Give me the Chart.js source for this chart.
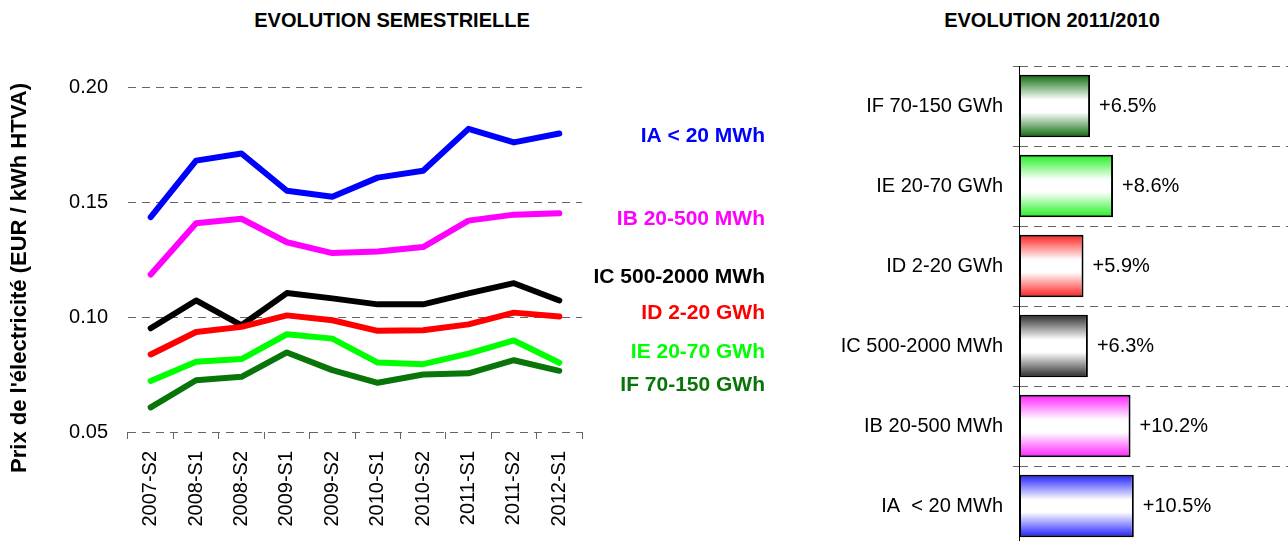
<!DOCTYPE html>
<html>
<head>
<meta charset="utf-8">
<script src="https://cdn.jsdelivr.net/npm/chart.js@4/dist/chart.umd.min.js"></script>
<style>
  html, body { margin: 0; padding: 0; background: #fff; overflow: hidden; width: 1288px; height: 541px; }
  .title { position: absolute; top: 8px; font: bold 20px 'Liberation Sans', Arial, sans-serif; text-align: center; line-height: 24px; color: #000; }
  #leftBox { position: absolute; left: 0; top: 0; width: 800px; height: 541px; }
  #rightBox { position: absolute; left: 800px; top: 0; width: 488px; height: 568px; }
</style>
</head>
<body>
<div class="title" style="left:192px;width:400px;">EVOLUTION SEMESTRIELLE</div>
<div class="title" style="left:852px;width:400px;">EVOLUTION 2011/2010</div>
<div id="leftBox"><canvas id="lineChart"></canvas></div>
<div id="rightBox"><canvas id="barChart" width="488" height="568"></canvas></div>
<script>
// semesters
var periods = ['2007-S2', '2008-S1', '2008-S2', '2009-S1', '2009-S2', '2010-S1', '2010-S2', '2011-S1', '2011-S2', '2012-S1'];

// prices EUR / kWh HTVA
var iaValues = [0.1434, 0.1680, 0.1711, 0.1549, 0.1523, 0.1606, 0.1636, 0.1818, 0.1759, 0.1798];
var ibValues = [0.1185, 0.1408, 0.1427, 0.1325, 0.1278, 0.1285, 0.1304, 0.1419, 0.1445, 0.1451];
var icValues = [0.0951, 0.1072, 0.0964, 0.1104, 0.1081, 0.1055, 0.1055, 0.1103, 0.1147, 0.1072];
var idValues = [0.0837, 0.0935, 0.0957, 0.1007, 0.0986, 0.0940, 0.0942, 0.0968, 0.1019, 0.1002];
var ieValues = [0.0722, 0.0805, 0.0817, 0.0925, 0.0906, 0.0802, 0.0795, 0.0841, 0.0898, 0.0801];
var ifValues = [0.0607, 0.0725, 0.0740, 0.0846, 0.0769, 0.0714, 0.0750, 0.0755, 0.0812, 0.0766];

var seriesNames = ['IA < 20 MWh', 'IB 20-500 MWh', 'IC 500-2000 MWh', 'ID 2-20 GWh', 'IE 20-70 GWh', 'IF 70-150 GWh'];
var seriesColors = ['#0000ff', '#ff00ff', '#000000', '#ff0000', '#00ff00', '#087508'];
var labelLevels = [0.1788, 0.1424, 0.1172, 0.1016, 0.0847, 0.0704];
var yTicks = [0.05, 0.10, 0.15, 0.20];

// evolution 2011/2010
var barLabels = ['IF 70-150 GWh', 'IE 20-70 GWh', 'ID 2-20 GWh', 'IC 500-2000 MWh', 'IB 20-500 MWh', 'IA  < 20 MWh'];
var barValues = [6.5, 8.6, 5.9, 6.3, 10.2, 10.5];
var barColors = ['#0b6b0b', '#1ef01e', '#ff1e1e', '#2a2a2a', '#ff1eff', '#1e1eff'];

Chart.defaults.font.family = "'Liberation Sans', Arial, sans-serif";
Chart.defaults.color = '#000';

var allSeries = [iaValues, ibValues, icValues, idValues, ieValues, ifValues];

var endLabels = {
    id: 'endLabels',
    afterDatasetsDraw: function (chart) {
        var ctx = chart.ctx;
        var y = chart.scales.y;
        var x = chart.chartArea.right + 183;
        ctx.save();
        ctx.font = "bold 21px 'Liberation Sans', Arial, sans-serif";
        ctx.textAlign = 'right';
        ctx.textBaseline = 'middle';
        seriesNames.forEach(function (name, i) {
            ctx.fillStyle = seriesColors[i];
            ctx.fillText(name, x, y.getPixelForValue(labelLevels[i]));
        });
        // axis title
        ctx.translate(20, 278);
        ctx.rotate(-Math.PI / 2);
        ctx.font = "bold 22px 'Liberation Sans', Arial, sans-serif";
        ctx.fillStyle = '#000';
        ctx.textAlign = 'center';
        ctx.fillText("Prix de l'électricité (EUR / kWh HTVA)", 0, 0);
        ctx.restore();
    }
};

new Chart(document.getElementById('lineChart'), {
    type: 'line',
    data: {
        labels: periods,
        datasets: allSeries.map(function (vals, i) {
            return {
                label: seriesNames[i],
                data: vals,
                borderColor: seriesColors[i],
                borderWidth: 6,
                pointRadius: 0,
                borderCapStyle: 'round',
                borderJoinStyle: 'round',
                tension: 0
            };
        }).reverse()
    },
    options: {
        responsive: true,
        maintainAspectRatio: false,
        animation: false,
        layout: { padding: { top: 87, right: 218, left: 0, bottom: 0 } },
        plugins: { legend: { display: false }, tooltip: { enabled: false } },
        scales: {
            x: {
                offset: true,
                grid: { drawOnChartArea: false, offset: true, tickLength: 7, color: '#666' },
                border: { display: false },
                ticks: { minRotation: 90, maxRotation: 90, padding: 12, font: { size: 20 } },
                afterFit: function (s) { s.height = 109; }
            },
            y: {
                min: 0.05,
                max: 0.20,
                afterBuildTicks: function (s) { s.ticks = yTicks.map(function (v) { return { value: v }; }); },
                ticks: { padding: 20, font: { size: 20 }, callback: function (v) { return v.toFixed(2); } },
                grid: { drawTicks: false, color: '#666' },
                border: { display: false, dash: [8, 6] },
                afterFit: function (s) { s.width = 128; }
            }
        }
    },
    plugins: [endLabels]
});

function barGradient(c) {
    var chart = c.chart;
    var color = barColors[c.dataIndex];
    var area = chart.chartArea;
    if (!area || !chart.scales.y) return color;
    var mid = chart.scales.y.getPixelForValue(c.dataIndex);
    var half = (area.bottom - area.top) / barLabels.length * 0.78 / 2;
    var g = chart.ctx.createLinearGradient(0, mid - half, 0, mid + half);
    g.addColorStop(0, color);
    g.addColorStop(0.4, '#ffffff');
    g.addColorStop(0.6, '#ffffff');
    g.addColorStop(1, color);
    return g;
}

var valueLabels = {
    id: 'valueLabels',
    afterDatasetsDraw: function (chart) {
        var ctx = chart.ctx;
        var meta = chart.getDatasetMeta(0);
        ctx.save();
        ctx.font = "20px 'Liberation Sans', Arial, sans-serif";
        ctx.fillStyle = '#000';
        ctx.textAlign = 'left';
        ctx.textBaseline = 'middle';
        meta.data.forEach(function (bar, i) {
            ctx.fillText('+' + barValues[i].toFixed(1) + '%', bar.x + 9, bar.y);
        });
        ctx.restore();
    }
};

new Chart(document.getElementById('barChart'), {
    type: 'bar',
    data: {
        labels: barLabels,
        datasets: [{
            data: barValues,
            backgroundColor: barGradient,
            borderColor: '#000',
            borderWidth: 2,
            borderSkipped: false,
            barPercentage: 0.78,
            categoryPercentage: 1
        }]
    },
    options: {
        indexAxis: 'y',
        responsive: false,
        animation: false,
        layout: { padding: { top: 66, right: 0, left: 0, bottom: 6 } },
        plugins: { legend: { display: false }, tooltip: { enabled: false } },
        scales: {
            x: { min: 0, max: 24.6, display: false },
            y: {
                grid: { color: '#666', tickLength: 6, offset: true },
                border: { display: true, color: '#000', width: 1, dash: [8, 6] },
                ticks: { padding: 10, font: { size: 20 } },
                afterFit: function (s) { s.width = 219; }
            }
        }
    },
    plugins: [valueLabels]
});
</script>
</body>
</html>
